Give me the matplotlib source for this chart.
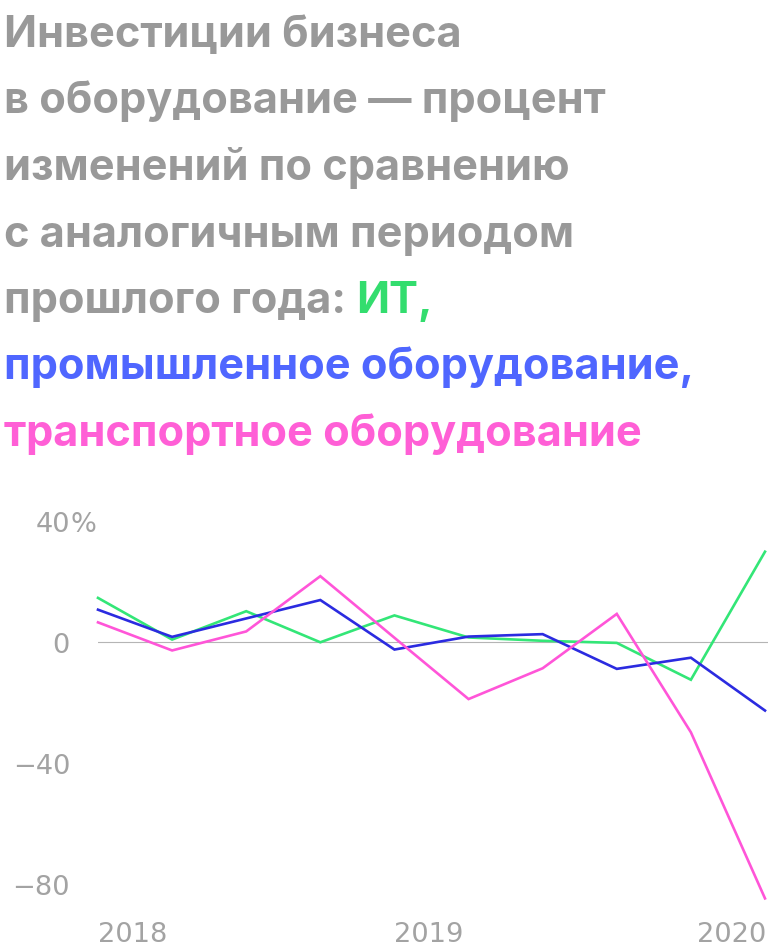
import matplotlib
matplotlib.use("Agg")
import matplotlib.pyplot as plt

# ---- data (quarterly, 2018 Q1 .. 2020 Q2) ----
quarters = list(range(10))
it_vals = [14.7, 0.9, 10.3, 0.0, 8.9, 1.6, 0.5, -0.2, -12.4, 30.0]
industrial_vals = [10.8, 1.8, 7.9, 14.0, -2.4, 1.9, 2.7, -8.8, -5.1, -22.6]
transport_vals = [6.6, -2.7, 3.6, 21.9, 1.5, -18.8, -8.6, 9.4, -29.8, -84.8]

year_labels = ["2018", "2019", "2020"]
year_quarter_idx = [0, 4, 9]
year_align = ["left", "left", "right"]

ytick_vals = [-80, -40, 0, 40]
ytick_labels = ["−80", "−40", "0", "40"]

title_gray = ["Инвестиции бизнеса",
              "в оборудование — процент",
              "изменений по сравнению",
              "с аналогичным периодом"]
title_line5 = "прошлого года: "
title_it = "ИТ,"
title_ind = "промышленное оборудование,"
title_tr = "транспортное оборудование"

GRAY = "#999999"
TICK_GRAY = "#a3a3a3"
C_IT_TXT = "#33dd6e"
C_IND_TXT = "#4f66ff"
C_TR_TXT = "#ff5fd6"
C_IT = "#33e677"
C_IND = "#2b2be0"
C_TR = "#ff55d8"

W, H = 768, 953
fig = plt.figure(figsize=(W / 100, H / 100), dpi=100)
fig.patch.set_facecolor("white")

TFONT = dict(family="Inter", weight="bold", fontsize=31.2)

def fy(px):
    return 1 - px / H

baseline0 = 47
step = 66.5
x0 = 4 / W
for i, line in enumerate(title_gray):
    fig.text(x0, fy(baseline0 + step * i), line, color=GRAY, va="baseline", ha="left", **TFONT)

t5 = fig.text(x0, fy(baseline0 + step * 4), title_line5, color=GRAY, va="baseline", ha="left", **TFONT)
fig.canvas.draw()
r = fig.canvas.get_renderer()
bb = t5.get_window_extent(renderer=r)
fig.text(bb.x1 / W, fy(baseline0 + step * 4), title_it, color=C_IT_TXT, va="baseline", ha="left", **TFONT)
fig.text(x0, fy(baseline0 + step * 5), title_ind, color=C_IND_TXT, va="baseline", ha="left", **TFONT)
fig.text(x0, fy(baseline0 + step * 6), title_tr, color=C_TR_TXT, va="baseline", ha="left", **TFONT)

# ---- axes ----
ymin, ymax = -88, 42
zero_px = 643.3
ppu = 3.02
top_px = zero_px - ymax * ppu
bot_px = zero_px - ymin * ppu
left_px, last_px = 98, 765
ax = fig.add_axes([left_px / W, (H - bot_px) / H, (W - left_px) / W, (bot_px - top_px) / H])
ax.set_xlim(0, 9 * (W - left_px) / (last_px - left_px))
ax.set_ylim(ymin, ymax)
for s in ax.spines.values():
    s.set_visible(False)
ax.set_xticks([])
ax.set_yticks([])
ax.patch.set_alpha(0)

ax.axhline(0, color="#b5b5b5", lw=0.8, zorder=1)
lw = 1.9
ax.plot(quarters, it_vals, color=C_IT, lw=lw, clip_on=False, zorder=3, solid_joinstyle="miter")
ax.plot(quarters, industrial_vals, color=C_IND, lw=lw, clip_on=False, zorder=3, solid_joinstyle="miter")
ax.plot(quarters, transport_vals, color=C_TR, lw=lw, clip_on=False, zorder=4, solid_joinstyle="miter")

LFONT = dict(family="DejaVu Sans", fontsize=19.6, color=TICK_GRAY)
for v, lab in zip(ytick_vals, ytick_labels):
    ax.annotate(lab, xy=(0, v), xycoords=("axes fraction", "data"),
                xytext=(-28, -10), textcoords="offset pixels",
                ha="right", va="baseline", **LFONT)
ax.annotate("%", xy=(0, ytick_vals[-1]), xycoords=("axes fraction", "data"),
            xytext=(-28, -10), textcoords="offset pixels",
            ha="left", va="baseline", **LFONT)

for lab, qi, al in zip(year_labels, year_quarter_idx, year_align):
    ax.annotate(lab, xy=(quarters[qi], 0), xycoords=("data", "axes fraction"),
                xytext=(1 if al == "right" else 0, -33), textcoords="offset pixels",
                ha=al, va="baseline", **LFONT)

fig.savefig("out.png", dpi=100, facecolor="white")
